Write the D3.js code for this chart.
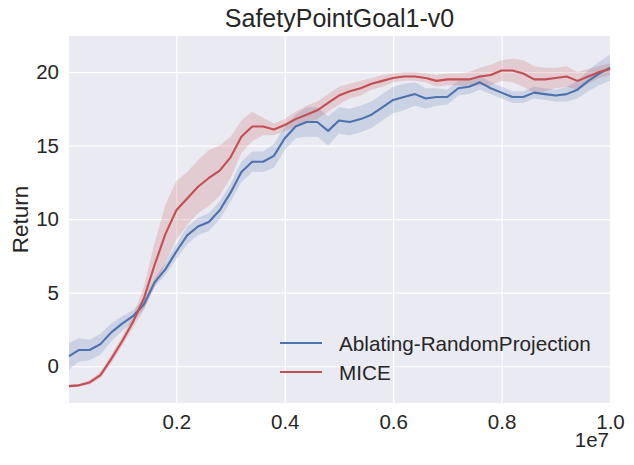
<!DOCTYPE html>
<html>
<head>
<meta charset="utf-8">
<script src="https://cdn.jsdelivr.net/npm/d3@7"></script>
<style>
  body { margin: 0; background: #fff; }
  text { font-family: "Liberation Sans", Arial, sans-serif; fill: #262626; }
</style>
</head>
<body>
<div id="container"></div>
<script>
// timesteps in units of 1e7
const steps = d3.range(51).map(i => +(i * 0.02).toFixed(2));
steps[0] = 0.002;

const blueMean = [0.68, 1.1, 1.1, 1.5, 2.3, 2.9, 3.4, 4.2, 5.7, 6.6,
  7.8, 8.9, 9.5, 9.8, 10.6, 11.8, 13.2, 13.9, 13.9, 14.3,
  15.5, 16.3, 16.6, 16.6, 16.0, 16.7, 16.6, 16.8, 17.1, 17.6,
  18.1, 18.3, 18.5, 18.2, 18.3, 18.3, 18.9, 19.0, 19.3, 18.9,
  18.6, 18.3, 18.3, 18.6, 18.5, 18.4, 18.5, 18.8, 19.4, 19.9, 20.3];
const blueSpread = [0.9, 0.8, 0.7, 0.7, 0.6, 0.5, 0.4, 0.3, 0.3, 0.4,
  0.5, 0.6, 0.6, 0.6, 0.6, 0.6, 0.7, 0.7, 0.7, 0.8,
  0.8, 0.8, 1.0, 1.0, 1.0, 0.9, 0.9, 0.9, 0.9, 0.9,
  0.9, 0.9, 0.8, 0.7, 0.6, 0.5, 0.5, 0.5, 0.5, 0.4,
  0.4, 0.4, 0.4, 0.4, 0.4, 0.4, 0.5, 0.6, 0.7, 0.8, 0.9];

const redMean = [-1.35, -1.3, -1.1, -0.6, 0.5, 1.7, 3.0, 4.6, 6.9, 9.0,
  10.6, 11.4, 12.2, 12.8, 13.3, 14.2, 15.6, 16.3, 16.3, 16.1,
  16.4, 16.8, 17.1, 17.4, 17.9, 18.4, 18.7, 18.9, 19.2, 19.4,
  19.6, 19.7, 19.7, 19.6, 19.4, 19.5, 19.5, 19.5, 19.7, 19.8,
  20.1, 20.1, 19.9, 19.5, 19.5, 19.6, 19.7, 19.4, 19.7, 20.0, 20.2];
const redSpread = [0.1, 0.1, 0.15, 0.2, 0.3, 0.3, 0.4, 0.8, 1.5, 2.0,
  2.0, 1.8, 1.8, 1.9, 1.7, 1.4, 1.1, 1.0, 0.6, 0.4,
  0.4, 0.5, 0.6, 0.6, 0.6, 0.6, 0.5, 0.5, 0.4, 0.4,
  0.3, 0.3, 0.3, 0.3, 0.4, 0.4, 0.4, 0.5, 0.6, 0.7,
  0.7, 0.8, 0.9, 0.9, 0.8, 0.7, 0.7, 0.6, 0.5, 0.4, 0.4];

const seriesNames = ["Ablating-RandomProjection", "MICE"];
const seriesColors = ["#4C72B0", "#C44E52"];

const xTicks = [0.2, 0.4, 0.6, 0.8, 1.0];
const yTicks = [0, 5, 10, 15, 20];

const width = 634, height = 465;
const margin = { top: 36, right: 24, bottom: 62, left: 69 };
const innerW = width - margin.left - margin.right;
const innerH = height - margin.top - margin.bottom;

const svg = d3.select("#container")
  .append("svg")
  .attr("width", width)
  .attr("height", height);

const xScale = d3.scaleLinear().domain([0.002, 1.0]).range([0, innerW]);
const yScale = d3.scaleLinear().domain([-2.5, 22.45]).range([innerH, 0]);

const g = svg.append("g")
  .attr("transform", `translate(${margin.left},${margin.top})`);

g.append("rect")
  .attr("width", innerW)
  .attr("height", innerH)
  .attr("fill", "#EAEAF2");

// grid
const xAxis = d3.axisBottom(xScale)
  .tickValues(xTicks)
  .tickSize(-innerH)
  .tickPadding(11)
  .tickFormat(d => d.toFixed(1));

const yAxis = d3.axisLeft(yScale)
  .tickValues(yTicks)
  .tickSize(-innerW)
  .tickPadding(10)
  .tickFormat(d => d);

const gx = g.append("g")
  .attr("transform", `translate(0,${innerH})`)
  .call(xAxis);
const gy = g.append("g").call(yAxis);

[gx, gy].forEach(ax => {
  ax.select(".domain").remove();
  ax.selectAll(".tick line").attr("stroke", "#fff").attr("stroke-width", 1.2);
  ax.selectAll(".tick text")
    .attr("fill", "#262626")
    .style("font-size", "20.5px")
    .style("font-family", "'Liberation Sans', Arial, sans-serif");
});

const series = [
  { mean: blueMean, spread: blueSpread },
  { mean: redMean, spread: redSpread }
];

const area = d3.area()
  .x((d, i) => xScale(steps[i]))
  .y0(d => yScale(d[0] - d[1]))
  .y1(d => yScale(d[0] + d[1]));

const line = d3.line()
  .x((d, i) => xScale(steps[i]))
  .y(d => yScale(d));

const plot = g.append("g");

series.forEach((s, k) => {
  plot.append("path")
    .datum(s.mean.map((m, i) => [m, s.spread[i]]))
    .attr("d", area)
    .attr("fill", seriesColors[k])
    .attr("fill-opacity", 0.2);
});

series.forEach((s, k) => {
  plot.append("path")
    .datum(s.mean)
    .attr("d", line)
    .attr("fill", "none")
    .attr("stroke", seriesColors[k])
    .attr("stroke-width", 2.1)
    .attr("stroke-linejoin", "round");
});

// legend
const legend = g.append("g")
  .attr("transform", `translate(${211},${307})`);

seriesNames.forEach((name, i) => {
  const row = legend.append("g").attr("transform", `translate(0,${i * 29})`);
  row.append("line")
    .attr("x1", 0).attr("x2", 42)
    .attr("y1", 0).attr("y2", 0)
    .attr("stroke", seriesColors[i])
    .attr("stroke-width", 2.1);
  row.append("text")
    .attr("x", 59)
    .attr("y", 7.5)
    .style("font-size", "20.7px")
    .text(name);
});

// title and labels
svg.append("text")
  .attr("x", margin.left + innerW / 2)
  .attr("y", 27)
  .attr("text-anchor", "middle")
  .style("font-size", "25px")
  .text("SafetyPointGoal1-v0");

svg.append("text")
  .attr("transform", `translate(28,${margin.top + innerH / 2}) rotate(-90)`)
  .attr("text-anchor", "middle")
  .style("font-size", "22.5px")
  .text("Return");

svg.append("text")
  .attr("x", margin.left + innerW - 1)
  .attr("y", 447)
  .attr("text-anchor", "end")
  .style("font-size", "20.5px")
  .text("1e7");
</script>
</body>
</html>
